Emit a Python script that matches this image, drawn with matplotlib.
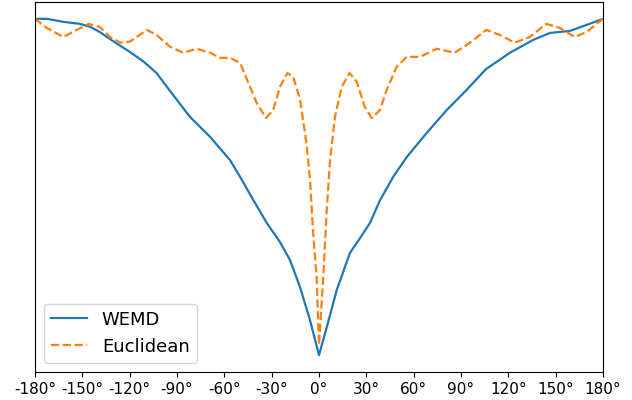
import matplotlib.pyplot as plt

# angles (deg) and normalised distances
wemd_deg = [-180, -172.6, -162, -151.5, -145, -139, -130, -120, -111, -103, -95, -81.7,
            -69, -56.4, -50, -41.6, -33.1, -24.7, -18.4, -12, -5.7, 0, 4.9, 11.2, 19.6,
            26, 32.3, 38.7, 47, 55.6, 68.3, 81, 93.6, 106, 121, 135.8, 146.4, 159, 169.7,
            180]
wemd_val = [1.000, 1.000, 0.991, 0.985, 0.976, 0.961, 0.932, 0.902, 0.872, 0.839, 0.789,
            0.708, 0.649, 0.580, 0.530, 0.461, 0.393, 0.336, 0.283, 0.202, 0.104, 0.0,
            0.083, 0.193, 0.304, 0.348, 0.393, 0.461, 0.530, 0.589, 0.661, 0.729, 0.789,
            0.851, 0.899, 0.9375, 0.958, 0.964, 0.982, 1.000]

eucl_deg = [-180, -172.6, -162, -153.6, -146, -139, -132.4, -126, -120, -109, -103, -94.4,
            -86, -77.5, -69, -62.7, -56.4, -50, -44.8, -39.5, -33.6, -29, -24.7, -20,
            -16.3, -12, -8.9, -7.8, -5.7, -3.6, -1.5, 0, 2.7, 4.9, 7, 10.1, 14.4, 19.4,
            23.9, 29, 33.4, 38.7, 42.9, 49.2, 55.6, 64, 74.6, 86, 95.7, 106, 114.7, 124,
            133.7, 144, 152.7, 162, 169.7, 180]
eucl_val = [1.000, 0.973, 0.946, 0.967, 0.985, 0.976, 0.946, 0.929, 0.932, 0.967, 0.952,
            0.917, 0.899, 0.911, 0.899, 0.884, 0.884, 0.869, 0.810, 0.750, 0.705, 0.729,
            0.798, 0.839, 0.827, 0.759, 0.661, 0.625, 0.521, 0.357, 0.232, 0.030, 0.232,
            0.432, 0.580, 0.708, 0.798, 0.839, 0.813, 0.738, 0.705, 0.729, 0.789, 0.857,
            0.887, 0.887, 0.911, 0.899, 0.929, 0.967, 0.952, 0.929, 0.946, 0.985, 0.973,
            0.946, 0.961, 1.000]

ticks = list(range(-180, 181, 30))
tick_labels = [f"{t}°" for t in ticks]

fig = plt.figure(figsize=(6.32, 4.0), dpi=100)
ax = fig.add_axes([0.0554, 0.07, 0.8987, 0.925])

ax.plot(wemd_deg, wemd_val, color="#1f77b4", lw=1.6, label="WEMD")
ax.plot(eucl_deg, eucl_val, color="#ff7f0e", lw=1.6, ls="--", label="Euclidean")

ax.set_xlim(-180, 180)
ax.set_xticks(ticks)
ax.set_xticklabels(tick_labels, fontsize=11)
ax.set_yticks([])
ax.legend(loc="lower left", fontsize=13)

fig.savefig("out.png", dpi=100)
